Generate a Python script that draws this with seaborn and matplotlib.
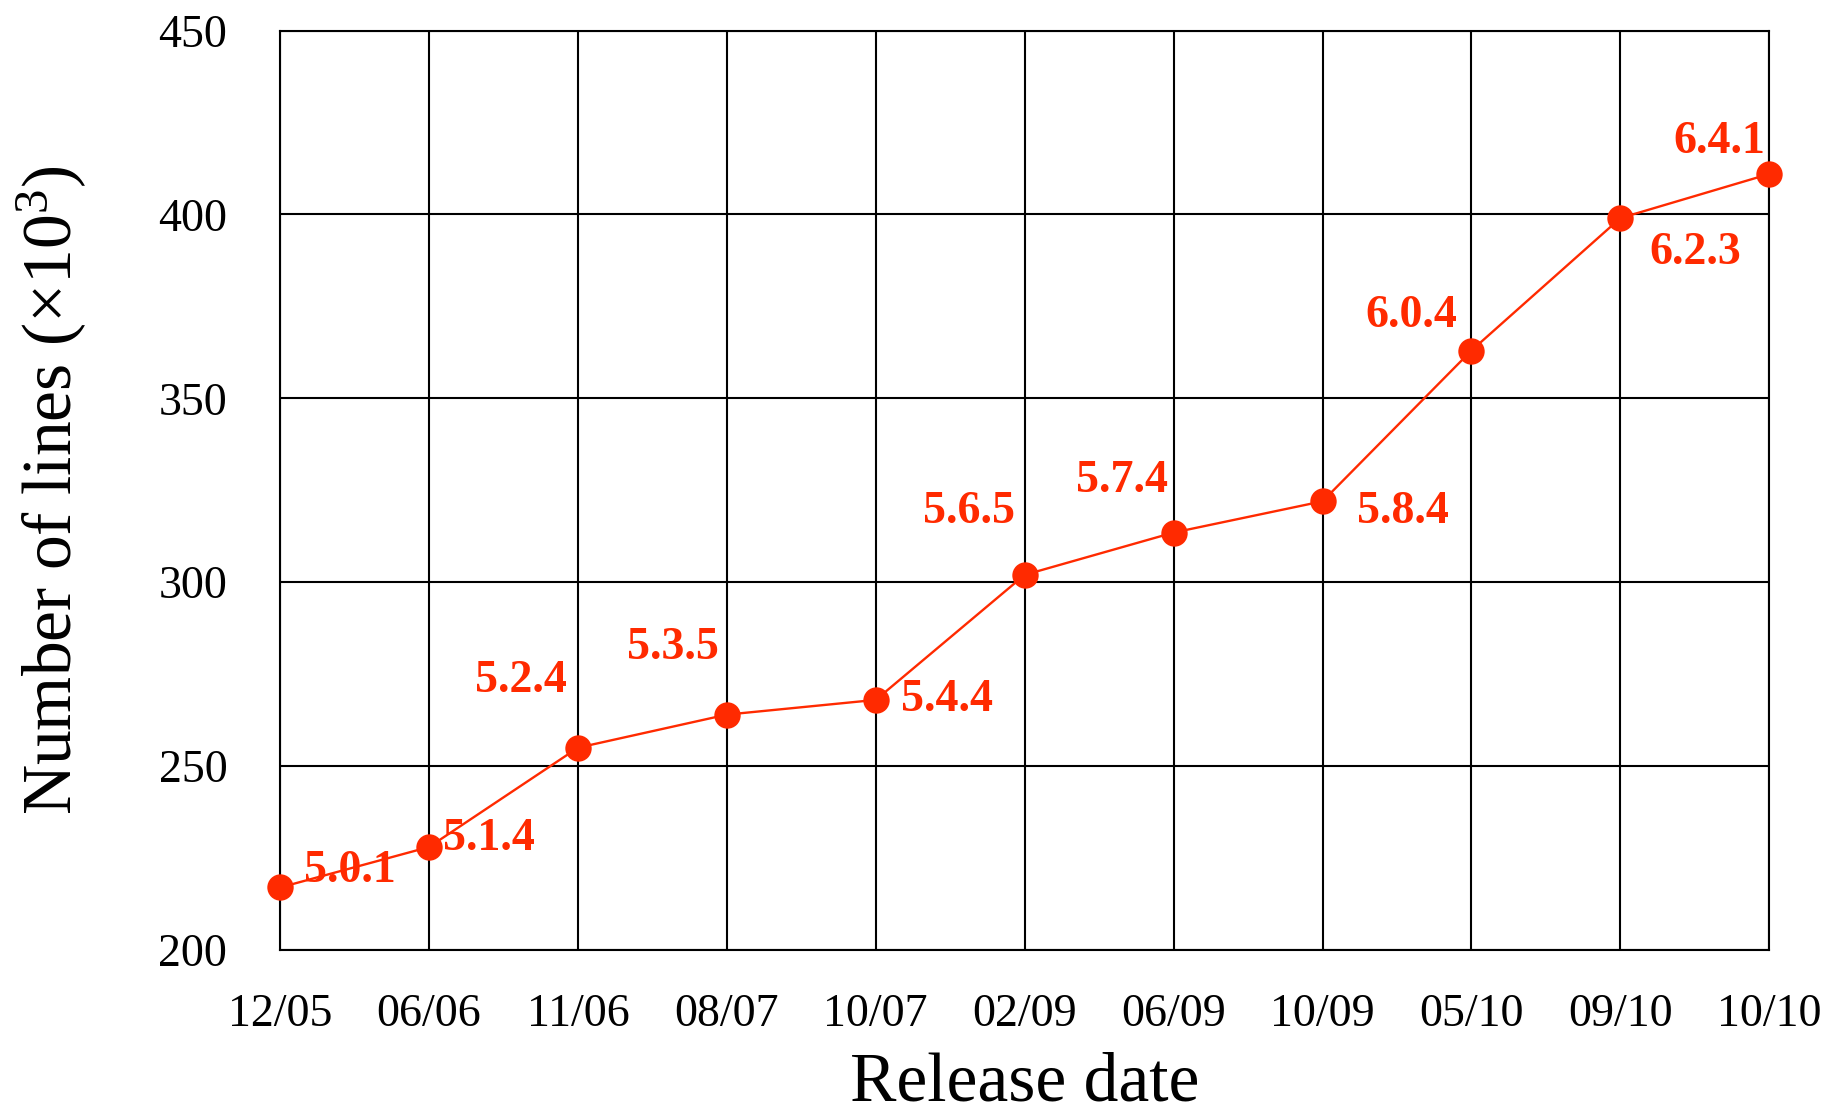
import matplotlib
matplotlib.use("Agg")
import matplotlib.pyplot as plt
import seaborn as sns
import pandas as pd

# Release dates, versions and code size (thousands of lines)
release_dates = ["12/05", "06/06", "11/06", "08/07", "10/07", "02/09",
                 "06/09", "10/09", "05/10", "09/10", "10/10"]
versions = ["5.0.1", "5.1.4", "5.2.4", "5.3.5", "5.4.4", "5.6.5",
            "5.7.4", "5.8.4", "6.0.4", "6.2.3", "6.4.1"]
kloc = [217, 228, 255, 264, 268, 302, 313.5, 322, 363, 399, 411]
y_ticks = [200, 250, 300, 350, 400, 450]

# label offsets (points) relative to each marker
label_dx = [50, 43, -41, -39, 51, -40, -37, 58, -43, 54, -36]
label_dy = [12, 6, 48, 48, 0, 45, 37, -8, 25, -25, 23]

sns.set_style("white")
plt.rcParams["font.family"] = ["Liberation Serif", "DejaVu Serif"]
plt.rcParams["mathtext.fontset"] = "custom"
plt.rcParams["mathtext.rm"] = "Liberation Serif"
plt.rcParams["mathtext.it"] = "Liberation Serif:italic"
plt.rcParams["text.color"] = "black"
plt.rcParams["axes.labelcolor"] = "black"

red = "#ff2a00"

df = pd.DataFrame({"pos": range(len(release_dates)), "kloc": kloc})

fig = plt.figure(figsize=(18.43, 11.15), dpi=100)
ax = fig.add_axes([0.152, 0.148, 0.808, 0.8246])

sns.lineplot(data=df, x="pos", y="kloc", ax=ax, color=red, linewidth=1.7,
             marker="o", markersize=19, markeredgewidth=0, clip_on=False,
             zorder=5)

for i, (v, dx, dy) in enumerate(zip(versions, label_dx, label_dy)):
    ax.annotate(v, xy=(i, kloc[i]), xytext=(dx, dy), textcoords="offset points",
                ha="center", va="center", color=red, fontsize=33,
                fontweight="bold", zorder=6, annotation_clip=False)

ax.set_xlim(0, len(release_dates) - 1)
ax.set_ylim(200, 450)
ax.set_xticks(range(len(release_dates)))
ax.set_xticklabels(release_dates)
ax.set_yticks(y_ticks)
ax.tick_params(axis="both", length=0, labelsize=33, colors="black")
ax.tick_params(axis="x", pad=31)
ax.tick_params(axis="y", pad=38)

ax.grid(True, color="black", linewidth=1.5)
ax.set_axisbelow(True)
for s in ax.spines.values():
    s.set_visible(True)
    s.set_color("black")
    s.set_linewidth(1.5)

ax.set_xlabel("Release date", fontsize=50, labelpad=12)
ax.set_ylabel("Number of lines (×10$^{3}$)", fontsize=50, labelpad=50)

fig.savefig("out.png", dpi=100)
